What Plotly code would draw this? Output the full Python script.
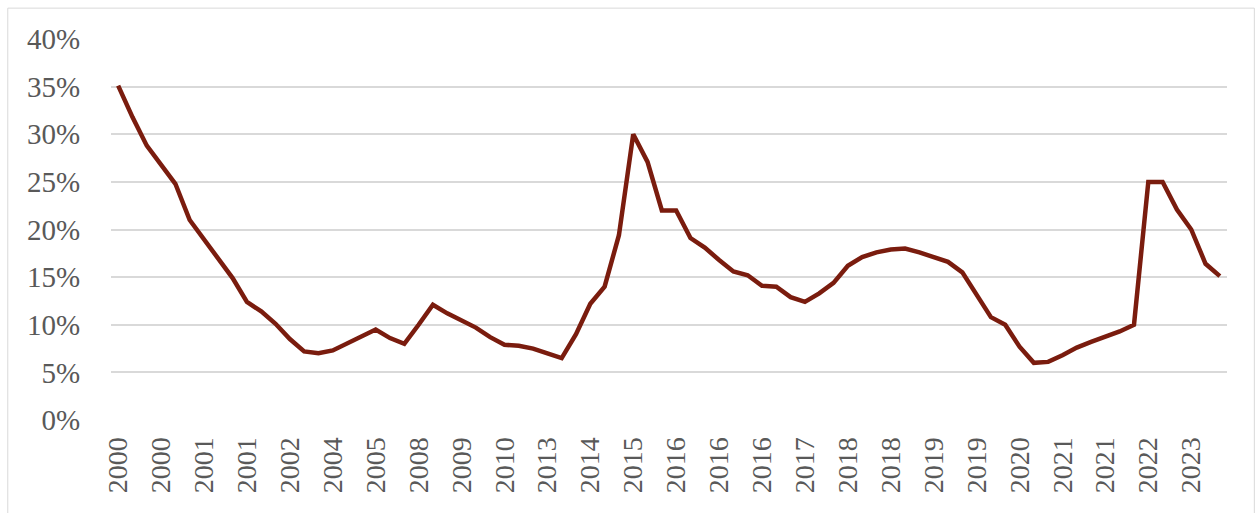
import plotly.graph_objects as go

# Category labels shown on the x axis (every 3rd observation)
tick_labels = ["2000", "2000", "2001", "2001", "2002", "2004", "2005", "2008", "2009",
               "2010", "2013", "2014", "2015", "2016", "2016", "2016", "2017", "2018",
               "2018", "2019", "2019", "2020", "2021", "2021", "2022", "2023"]

# Series values (%), one per observation
values = [35.1, 31.8, 28.8, 26.8, 24.8, 21.0, 19.0, 17.0, 14.9, 12.4,
          11.4, 10.1, 8.5, 7.2, 7.0, 7.3, 8.0, 8.8, 9.5, 8.6,
          8.0, 10.0, 12.1, 11.2, 10.5, 9.7, 8.7, 7.9, 7.8, 7.5,
          7.0, 6.5, 9.0, 12.2, 14.0, 19.4, 30.0, 27.1, 22.0, 22.0,
          19.1, 18.1, 16.8, 15.6, 15.2, 14.1, 14.0, 12.9, 12.4, 13.3,
          14.4, 16.2, 17.1, 17.6, 17.9, 18.0, 17.6, 17.1, 16.6, 15.5,
          13.1, 10.8, 10.0, 7.7, 6.0, 6.1, 6.8, 7.6, 8.2, 8.7,
          9.3, 10.0, 25.0, 25.0, 22.1, 20.0, 16.4, 15.1]

label_step = 3
x_idx = list(range(len(values)))
tick_pos = [i * label_step for i in range(len(tick_labels))]
y_ticks = [0, 5, 10, 15, 20, 25, 30, 35, 40]

fig = go.Figure()
fig.add_trace(go.Scatter(
    x=x_idx, y=[v / 100 for v in values], mode="lines",
    line=dict(color="#7a1c0e", width=4.5), hoverinfo="skip", showlegend=False))

fig.update_layout(
    width=1260, height=513,
    margin=dict(l=111, r=33, t=39, b=93),
    paper_bgcolor="white", plot_bgcolor="white",
    font=dict(family="Liberation Serif, Times New Roman, serif", color="#595959"),
    xaxis=dict(
        range=[-0.5, len(values) - 0.5],
        tickmode="array", tickvals=tick_pos, ticktext=tick_labels,
        tickangle=-90, tickfont=dict(size=28, color="#595959"),
        showgrid=False, zeroline=False, showline=False,
        ticks="outside", ticklen=5, tickcolor="rgba(0,0,0,0)"),
    yaxis=dict(
        range=[0, 0.40], tickmode="array",
        tickvals=[t / 100 for t in y_ticks], ticktext=[f"{t}%" for t in y_ticks],
        tickfont=dict(size=29, color="#595959"),
        showgrid=True, gridcolor="#d9d9d9", gridwidth=1.5,
        zeroline=False, showline=False,
        ticks="outside", ticklen=24, tickcolor="rgba(0,0,0,0)"),
    shapes=[dict(type="rect", xref="paper", yref="paper",
                 x0=-0.0925, x1=1.0245, y0=-0.3, y1=1.081,
                 line=dict(color="#d9d9d9", width=1), layer="below")],
)

fig.write_html("out.html")
